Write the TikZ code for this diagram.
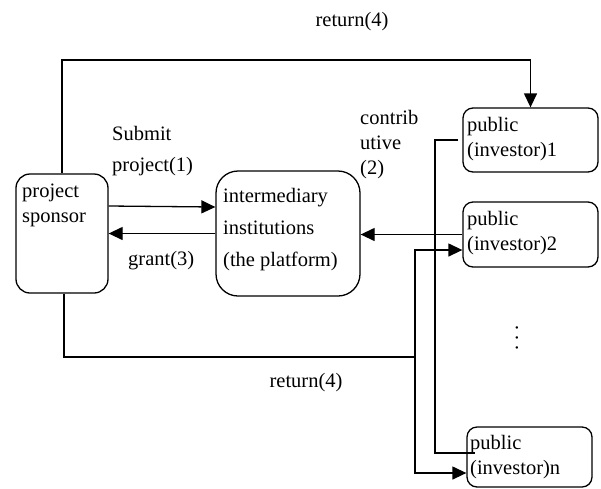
\documentclass[tikz,border=0pt]{standalone}
\usepackage{fontspec}
\setmainfont{Liberation Serif}
\usetikzlibrary{arrows.meta}
\tikzset{
  box/.style={draw, line width=1.3pt, inner sep=0pt},
  txt/.style={align=left, inner sep=0pt, anchor=west, font=\fontsize{20.5}{25}\selectfont},
  wire/.style={line width=1.3pt},
  arr/.style={wire, -{Triangle[length=14pt,width=13pt]}}
}
\begin{document}
\begin{tikzpicture}[x=1pt,y=-1pt]
\useasboundingbox (0,0) rectangle (601,488);
\node[box, rounded corners=14pt, minimum width=92pt, minimum height=119pt] (sponsor) at (62,233.5){};
\node[box, rounded corners=22pt, minimum width=144pt, minimum height=125pt] (inter) at (288,233.5){};
\node[box, rounded corners=10pt, minimum width=135pt, minimum height=64pt] (inv1) at (530.5,140){};
\node[box, rounded corners=10pt, minimum width=135pt, minimum height=65pt] (inv2) at (530.5,234.5){};
\node[box, rounded corners=10pt, minimum width=125pt, minimum height=60pt] (invn) at (529.5,457){};
\node[txt] (sponsortxt) at (22,205.5){project\\sponsor};
\node[txt, font=\fontsize{20.5}{32}\selectfont] (intertxt) at (223,230){intermediary\\institutions\\(the platform)};
\node[txt] (inv1txt) at (467,139){public\\(investor)1};
\node[txt] (inv2txt) at (467,233){public\\(investor)2};
\node[txt] (invntxt) at (470,457.5){public\\(investor)n};
\node[txt, font=\fontsize{20.5}{31}\selectfont] (submit) at (112,151.5){Submit\\project(1)};
\node[txt] (grant) at (128,261){grant(3)};
\node[txt] (contrib) at (360,144.5){contrib\\utive\\(2)};
\node[txt, anchor=center] (rettop) at (352,22){return(4)};
\node[txt, anchor=center] (retbot) at (306,383){return(4)};
\node[txt, anchor=center, rotate=90] (dots) at (517,338){.\kern5pt.\kern5pt.};
\coordinate (topleft) at (62,60);
\coordinate (split) at (415,357);
\coordinate (bend1) at (435,453);
\coordinate (invnend) at (475,453);
\draw[arr] (sponsor.north) -- (topleft) -| (inv1.north);
\draw[arr] ([yshift=27.5pt]sponsor.east) -- ([yshift=26.5pt]inter.west);
\draw[arr] (inter.west) -- (sponsor.east);
\draw[arr] (inv2.west) -- (inv2.west -| inter.east);
\draw[wire] ([xshift=-4pt]inv1.west) -| (bend1) -- (invnend);
\draw[wire] ([xshift=2pt]sponsor.south) |- (split);
\draw[arr] (split) |- ([yshift=-15.5pt]inv2.west);
\draw[arr] (split) |- ([yshift=-16pt]invn.west);
\end{tikzpicture}
\end{document}
